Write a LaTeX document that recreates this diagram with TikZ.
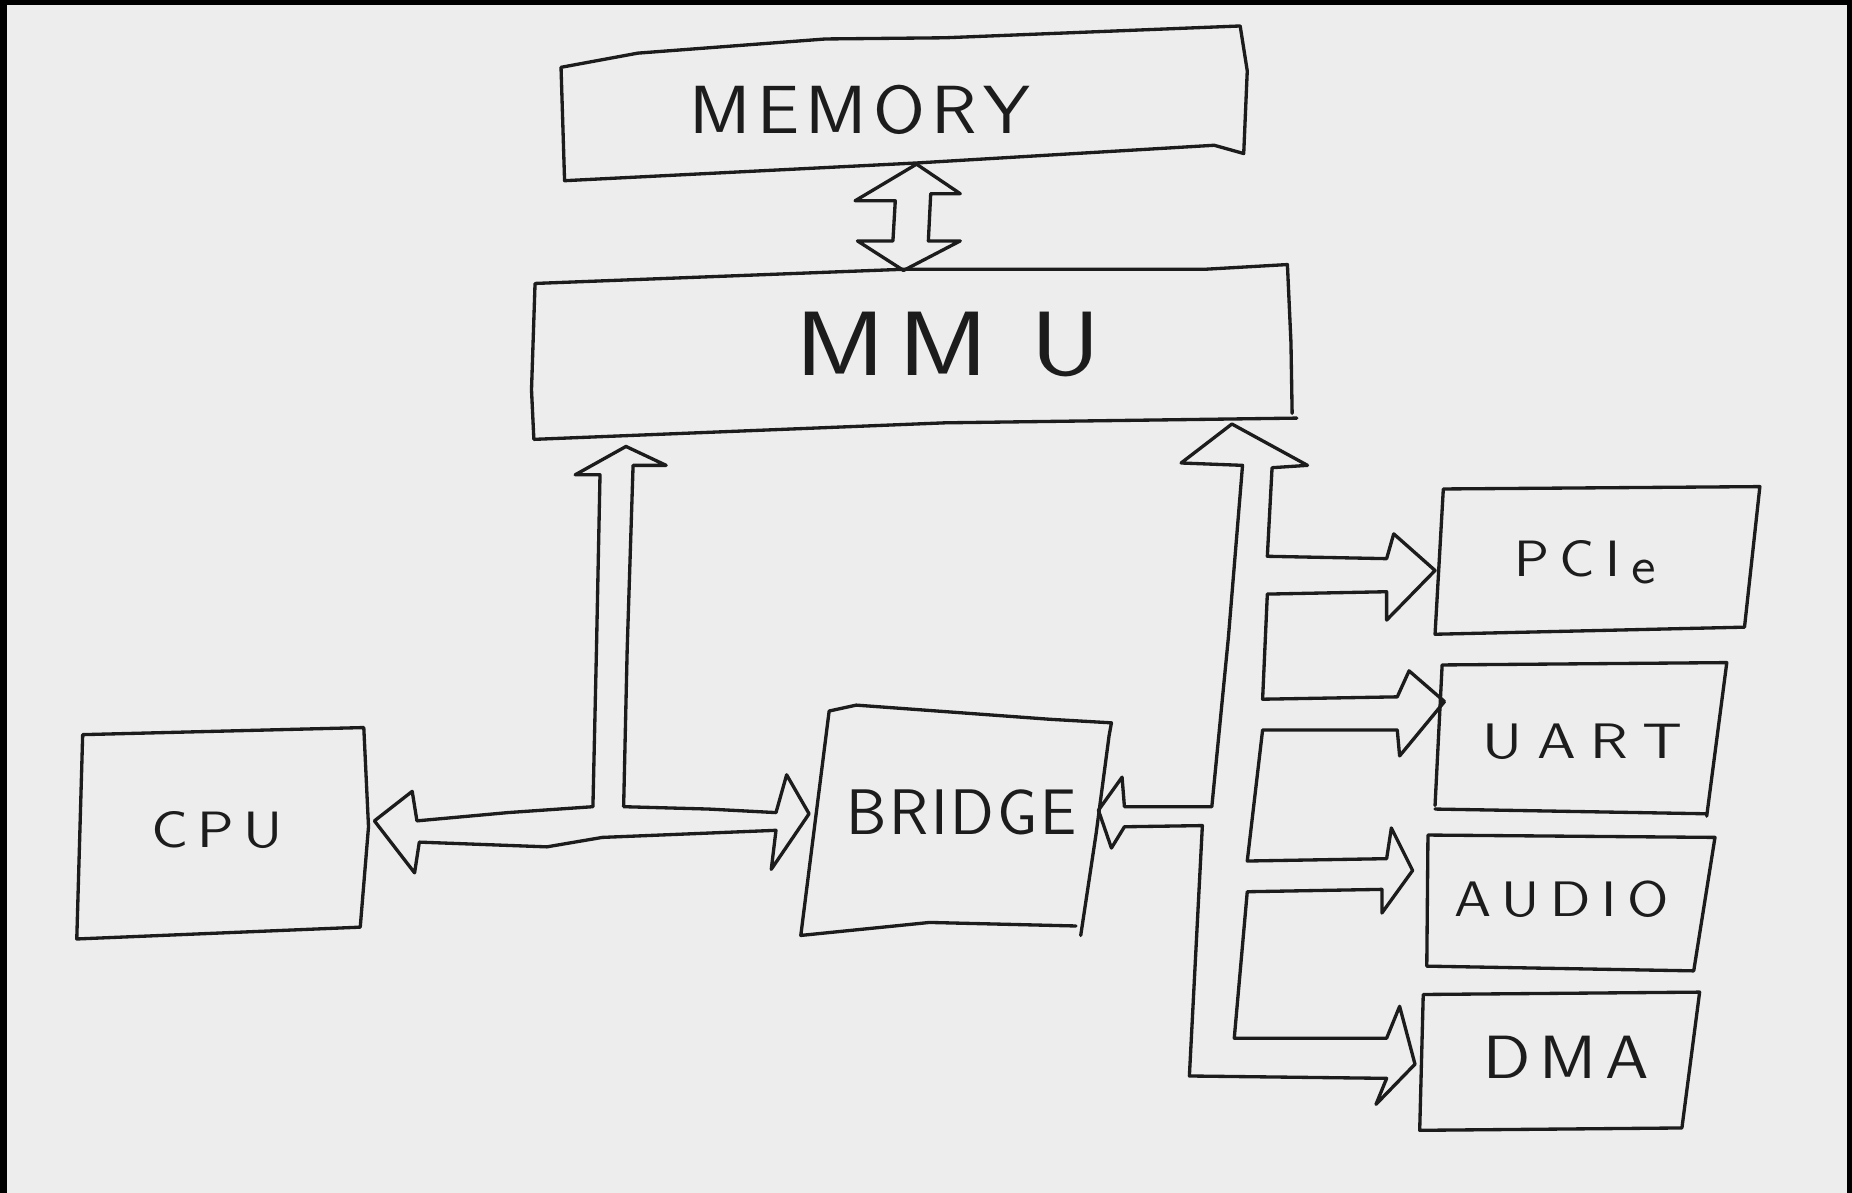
\documentclass[tikz,border=0pt]{standalone}
\usepackage{fontspec}
\usepackage{graphicx}
\definecolor{paper}{HTML}{EDEDED}
\definecolor{inkc}{HTML}{1C1C1C}
\newdimen\hwgap
\newcommand{\hg}{\kern\hwgap}
% size, horizontal scale, gap between letters, text
\newcommand{\hwtext}[4]{{\sffamily\fontsize{#1}{#1}\selectfont\hwgap=#3\relax\scalebox{#2}[1]{#4}}}
\begin{document}
\begin{tikzpicture}[x=0.01cm,y=-0.01cm,
  ink/.style={draw=inkc, line width=0.8pt, line join=round, line cap=round},
  lbl/.style={text=inkc, inner sep=0pt}]
\useasboundingbox (0,0) rectangle (1568,1010);
\fill[black] (0,0) rectangle (1568,1010);
\fill[paper] (6,4.5) rectangle (1564,1010);

% boxes
\draw[ink] (475,57) -- (540,45) -- (699,33) -- (800,32) -- (1050,22) -- (1056,60) -- (1053,130) -- (1028,123) -- (776,138) -- (478,153) -- cycle;
\draw[ink] (453,240) -- (765,228) -- (1020,228) -- (1090,224) -- (1093,290) -- (1094,350) (1098,354) -- (800,358) -- (452,372) -- (450,330) -- (453,240);
\draw[ink] (70,622) -- (308,616) -- (312,700) -- (305,785) -- (65,795) -- cycle;
\draw[ink] (702,602) -- (725,597) -- (889,609) -- (941,612) -- (939,623) -- (928,706) -- (915,792) (911,784) -- (787,781) -- (678,792) -- (702,602);
\draw[ink] (1222,414) -- (1490,412) -- (1477,531) -- (1215,537) -- cycle;
\draw[ink] (1221,563) -- (1462,561) -- (1445,691) (1445,689) -- (1215,685) (1215,682) -- (1221,563);
\draw[ink] (1209,707) -- (1452,709) -- (1434,822) -- (1208,818) -- cycle;
\draw[ink] (1205,842) -- (1439,840) -- (1424,955) -- (1202,957) -- cycle;

% labels
\node[lbl] (mem) at (728,93) {\hwtext{16.4pt}{1.1}{1.4pt}{M\hg E\hg M\hg O\hg R\hg Y}};
\node[lbl] (mmu) at (803,292) {\hwtext{22pt}{1.2}{5.5pt}{M\kern-3pt\hg M\kern3pt\hg U}};
\node[lbl] (cpu) at (184,703) {\hwtext{12.3pt}{1.15}{1.9pt}{C\hg P\hg U}};
\node[lbl] (bridge) at (814,688) {\hwtext{15.5pt}{1}{0.7pt}{B\hg R\hg I\hg D\hg G\hg E}};
\node[lbl] (pcie) at (1342,476) {\hwtext{12.3pt}{1.1}{2.3pt}{P\hg C\hg I\hg\raisebox{-0.15em}{e}}};
\node[lbl] (uart) at (1340,628) {\hwtext{12pt}{1.2}{2.9pt}{U\hg A\hg R\hg T}};
\node[lbl] (audio) at (1322,761) {\hwtext{12pt}{1.15}{2.2pt}{A\hg U\hg D\hg I\hg O}};
\node[lbl] (dma) at (1326,895) {\hwtext{14.7pt}{1.1}{2pt}{D\hg M\hg A}};

% memory <-> mmu
\draw[ink] (776,139) -- (813,164) -- (788,164) -- (786,204) -- (813,204) -- (765,229) -- (726,204) -- (756,204) -- (758,170) -- (724,170) -- cycle;

% cpu <-> bridge, up to mmu
\draw[ink] (353,695) -- (349,670) -- (317,695) -- (351,739) -- (355,713) -- (463,717) -- (510,709) -- (657,703)
  -- (653,736) -- (685,689) -- (666,656) -- (657,688) -- (600,685) -- (528,683) -- (531,550) -- (536,394)
  -- (564,394) -- (530,378) -- (487,402) -- (508,402) -- (505,550) -- (502,683) -- (430,688) -- cycle;

% bridge <-> mmu and peripherals
\draw[ink] (930,686) -- (950,658) -- (952,683) -- (1026,683) -- (1040,540) -- (1052,394) -- (1000,392) -- (1043,359)
  -- (1107,394) -- (1077,396) -- (1073,471) -- (1174,473) -- (1180,452) -- (1215,483) -- (1174,525) -- (1174,501)
  -- (1073,503) -- (1069,592) -- (1183,590) -- (1193,568) -- (1223,594) -- (1185,640) -- (1183,618) -- (1069,618)
  -- (1056,729) -- (1174,727) -- (1178,701) -- (1196,737) -- (1170,773) -- (1170,753) -- (1056,755) -- (1045,879)
  -- (1174,879) -- (1185,852) -- (1198,901) -- (1165,935) -- (1174,913) -- (1007,911) -- (1018,699) -- (952,700)
  -- (941,718) -- cycle;
\end{tikzpicture}
\end{document}
